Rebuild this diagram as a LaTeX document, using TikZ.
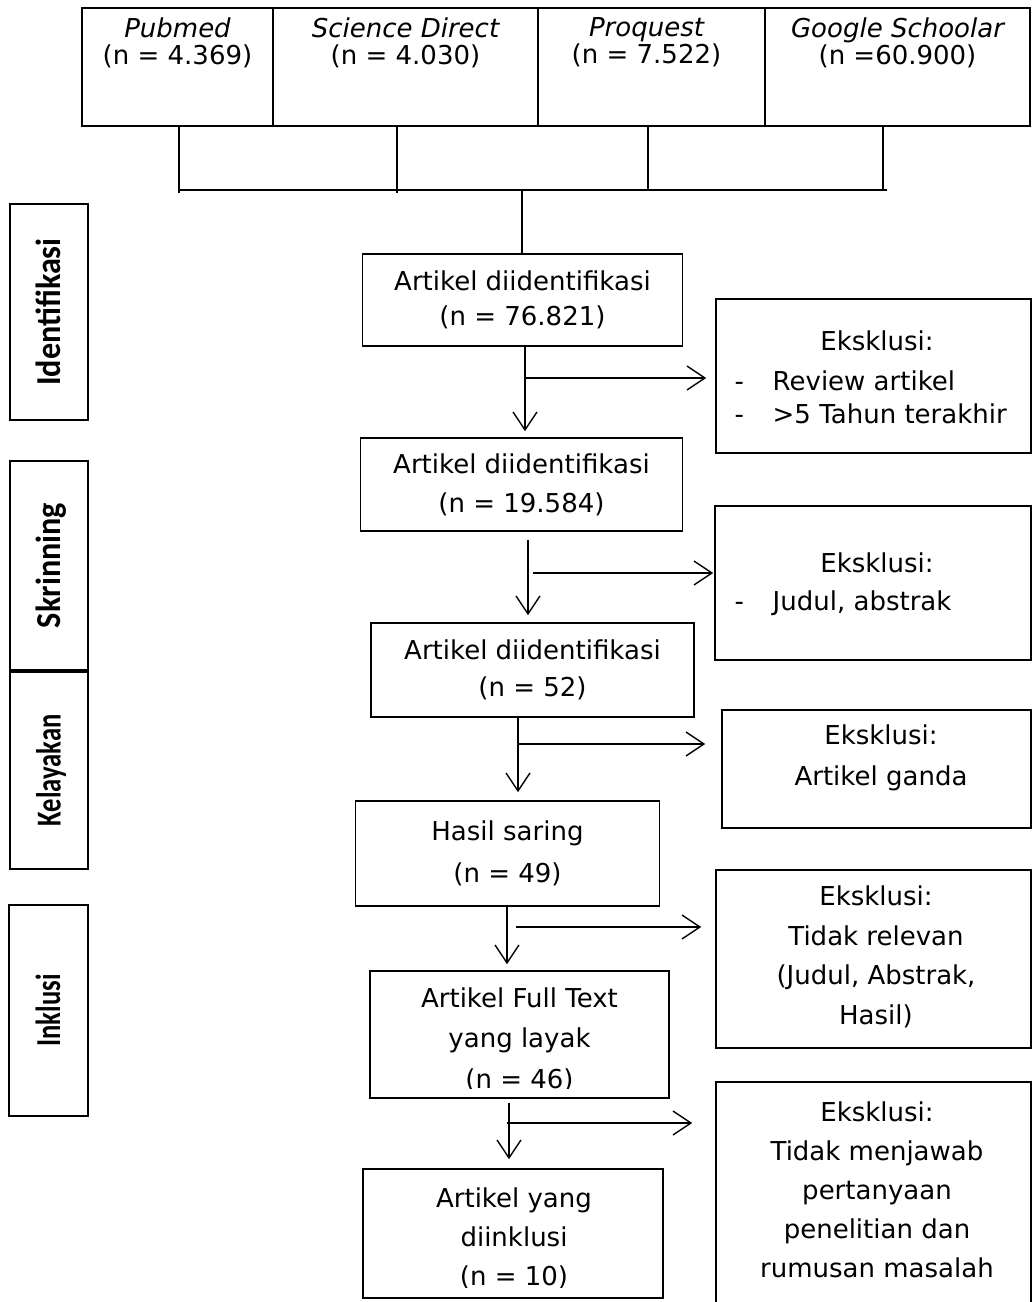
\documentclass[tikz,border=0pt]{standalone}
\usepackage{fontspec}
\usepackage{graphicx}
\setmainfont{DejaVu Sans}
\newfontfamily\stagefont{Carlito}
\usetikzlibrary{arrows.meta}
\tikzset{
  box/.style={draw, line width=1.6pt, rectangle, inner sep=0pt},
  tx/.style={align=center, inner sep=0pt, font=\fontsize{26}{#1}\selectfont},
  tx/.default=39,
  toptext/.style={align=center, inner sep=0pt, font=\fontsize{26}{27}\selectfont},
  stage/.style={box, rotate=90, font=\stagefont\bfseries\fontsize{35}{40}\selectfont, text height=23pt, text depth=0pt},
  conn/.style={line width=1.4pt},
  arr/.style={conn, -{Straight Barb[length=18pt,width=24pt,line width=1.4pt]}}
}
\begin{document}
\begin{tikzpicture}[x=1pt,y=-1pt]
\useasboundingbox (0,0) rectangle (1033,1302);
\clip (0,0) rectangle (1033,1302);

% top source cells
\node[box, minimum width=191pt, minimum height=118pt] (pub) at (177.5,67) {};
\node[box, minimum width=265pt, minimum height=118pt] (sci) at (405.5,67) {};
\node[box, minimum width=227pt, minimum height=118pt] (pro) at (651.5,67) {};
\node[box, minimum width=265pt, minimum height=118pt] (goo) at (897.5,67) {};
\node[toptext, anchor=north] (pubt) at ([yshift=-10pt]pub.north) {\itshape Pubmed\\(n = 4.369)};
\node[toptext, anchor=north] (scit) at ([yshift=-10pt]sci.north) {\itshape Science Direct\\(n = 4.030)};
\node[toptext, anchor=north] (prot) at ([xshift=-5pt,yshift=-10pt]pro.north) {\itshape Proquest\\(n = 7.522)};
\node[toptext, anchor=north] (goot) at ([yshift=-10pt]goo.north) {\itshape Google Schoolar\\(n =60.900)};

% main column
\node[box, tx=35, minimum width=320pt, minimum height=92pt] (b1) at (522.5,300) {Artikel diidentifikasi\\(n = 76.821)};
\node[box, tx=39, minimum width=322pt, minimum height=93pt] (b2) at (521.5,484.5) {Artikel diidentifikasi\\(n = 19.584)};
\node[box, tx=37, minimum width=323pt, minimum height=94pt] (b3) at (532.5,670) {Artikel diidentifikasi\\(n = 52)};
\node[box, tx=42, minimum width=304pt, minimum height=105pt] (b4) at (507.5,853.5) {Hasil saring\\(n = 49)};
\node[box, minimum width=299pt, minimum height=127pt] (b5) at (519.5,1034.5) {};
\node[box, minimum width=300pt, minimum height=129pt] (b6) at (513,1233.5) {};
\begin{scope}
\clip (b5.north west) rectangle ([yshift=10pt]b5.south east);
\node[tx=40.5] (b5t) at (519.5,1039.5) {Artikel Full Text\\yang layak\\(n = 46)};
\end{scope}
\begin{scope}
\clip (b6.north west) rectangle ([yshift=11pt]b6.south east);
\node[tx=39] (b6t) at (514,1238) {Artikel yang\\diinklusi\\(n = 10)};
\end{scope}

% exclusion boxes
\node[box, minimum width=315pt, minimum height=154pt] (e1) at (873.5,376) {};
\node[tx] (e1t) at (877,341) {Eksklusi:};
\node[tx=33, anchor=west, align=left] (e1l) at (734.5,397) {\makebox[38pt][l]{-}Review artikel\\\makebox[38pt][l]{-}>5 Tahun terakhir};
\node[box, minimum width=316pt, minimum height=154pt] (e2) at (873,583) {};
\node[tx] (e2t) at (877,563) {Eksklusi:};
\node[tx, anchor=west, align=left] (e2l) at (734.5,603) {\makebox[38pt][l]{-}Judul, abstrak};
\node[box, minimum width=309pt, minimum height=118pt] (e3) at (876.5,769) {};
\node[tx=41] (e3t) at (881,757.5) {Eksklusi:\\Artikel ganda};
\node[box, minimum width=315pt, minimum height=178pt] (e4) at (873.5,959) {};
\node[tx=39.5] (e4t) at (876,957) {Eksklusi:\\Tidak relevan\\(Judul, Abstrak,\\Hasil)};
\node[box, minimum width=315pt, minimum height=238pt] (e5) at (873.5,1201) {};
\node[tx=39] (e5t) at (877,1190) {Eksklusi:\\Tidak menjawab\\pertanyaan\\penelitian dan\\rumusan masalah};

% stage labels
\node[stage, minimum width=216pt, minimum height=78pt] (L1) at (49,312) {\scalebox{0.92}[1]{Identifikasi}};
\node[stage, minimum width=209pt, minimum height=78pt] (L2) at (49,565.5) {\scalebox{0.92}[1]{Skrinning}};
\node[stage, minimum width=197pt, minimum height=78pt] (L3) at (49,770.5) {\scalebox{0.76}[1]{Kelayakan}};
\node[stage, minimum width=211pt, minimum height=79pt] (L4) at (48.5,1010.5) {\scalebox{0.76}[1]{Inklusi}};

% bus from sources
\coordinate (k1) at (179,193);
\coordinate (k2) at (397,193);
\coordinate (k3) at (648,191);
\coordinate (k4) at (883,191);
\coordinate (busL) at (179,190);
\coordinate (busR) at (887,190);
\coordinate (busM) at (522,190);
\draw[conn] (pub.south -| k1) -- (k1);
\draw[conn] (sci.south -| k2) -- (k2);
\draw[conn] (pro.south -| k3) -- (k3);
\draw[conn] (goo.south -| k4) -- (k4);
\draw[conn] (busL) -- (busR);
\draw[conn] (busM) -- (busM |- b1.north);

% arrows
\coordinate (v1) at (525,0);
\coordinate (h1) at (525,378);
\draw[arr, shorten >=6pt] (b1.south -| v1) -- (b2.north -| v1);
\draw[arr, shorten >=9pt] (h1) -- (e1.west |- h1);

\coordinate (v2) at (528,0);
\coordinate (h2) at (533,573);
\draw[arr, shorten <=8pt, shorten >=7pt] (b2.south -| v2) -- (b3.north -| v2);
\draw[arr, shorten >=1pt] (h2) -- (e2.west |- h2);

\coordinate (v3) at (518,0);
\coordinate (h3) at (518,744);
\draw[arr, shorten >=8pt] (b3.south -| v3) -- (b4.north -| v3);
\draw[arr, shorten >=16pt] (h3) -- (e3.west |- h3);

\coordinate (v4) at (507,0);
\coordinate (h4) at (516,927);
\draw[arr, shorten >=6pt] (b4.south -| v4) -- (b5.north -| v4);
\draw[arr, shorten >=14pt] (h4) -- (e4.west |- h4);

\coordinate (v5) at (509,0);
\coordinate (h5) at (507,1123);
\draw[arr, shorten <=4pt, shorten >=9pt] (b5.south -| v5) -- (b6.north -| v5);
\draw[arr, shorten >=23pt] (h5) -- (e5.west |- h5);
\end{tikzpicture}
\end{document}
